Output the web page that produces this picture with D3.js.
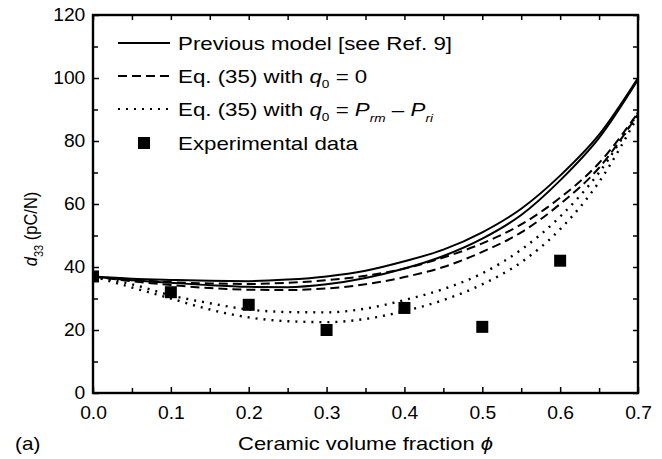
<!DOCTYPE html>
<html>
<head>
  <meta charset="utf-8">
  <script src="https://d3js.org/d3.v7.min.js"></script>
  <style>
    body { margin: 0; background: #fff; }
    #chart { font-family: "Liberation Sans", Arial, sans-serif; }
  </style>
</head>
<body>
<svg id="chart" width="662" height="459"></svg>
<script>
  // ceramic volume fraction sampled along the model curves
  const phi = [0, 0.05, 0.1, 0.15, 0.2, 0.25, 0.3, 0.35, 0.4, 0.45, 0.5, 0.55, 0.6, 0.65, 0.7];

  const previousUpper = [37, 36.3, 35.9, 35.6, 35.5, 36, 37, 38.8, 41.8, 45.5, 51, 58.5, 69, 82, 100];
  const previousLower = [37, 35.8, 35, 34.2, 33.7, 33.6, 34.5, 36.5, 39.5, 43.5, 49, 56.5, 67.5, 81, 99.5];
  const zeroUpper = [37, 36, 35.2, 34.8, 34.6, 35, 35.8, 37.2, 39.5, 43, 47.5, 53.5, 62, 73, 89];
  const zeroLower = [37, 35.5, 34.3, 33.3, 32.8, 32.7, 33.2, 34.5, 36.8, 40, 44.8, 51, 60, 71.5, 88.5];
  const polUpper = [37, 34.5, 31, 28.5, 26.5, 25.7, 25.6, 26.8, 29.5, 33, 38, 45.5, 56, 70, 89];
  const polLower = [37, 33.5, 30, 26.5, 24, 22.8, 22.5, 23.5, 26, 29.5, 34.5, 41.5, 52, 67, 88];

  const expPhi = [0, 0.1, 0.2, 0.3, 0.4, 0.5, 0.6];
  const expD33 = [37, 32, 28, 20, 27, 21, 42];

  const xTicks = [0, 0.1, 0.2, 0.3, 0.4, 0.5, 0.6, 0.7];
  const xMinor = [0.05, 0.15, 0.25, 0.35, 0.45, 0.55, 0.65];
  const yTicks = [0, 20, 40, 60, 80, 100, 120];
  const yMinor = [10, 30, 50, 70, 90, 110];

  const svg = d3.select('#chart');
  const margin = { top: 15, right: 24, bottom: 66, left: 93 };
  const width = 662 - margin.left - margin.right;
  const height = 459 - margin.top - margin.bottom;

  const x = d3.scaleLinear().domain([0, 0.7]).range([0, width]);
  const y = d3.scaleLinear().domain([0, 120]).range([height, 0]);

  const g = svg.append('g')
    .attr('transform', `translate(${margin.left},${margin.top})`);

  g.append('clipPath').attr('id', 'plotClip')
    .append('rect').attr('width', width).attr('height', height);

  // curves
  const line = d3.line()
    .x(d => x(d[0]))
    .y(d => y(d[1]))
    .curve(d3.curveMonotoneX);

  const DASH = '9,5', DOT = '2,6';
  const series = [
    { values: previousUpper, dash: null },
    { values: previousLower, dash: null },
    { values: zeroUpper, dash: DASH },
    { values: zeroLower, dash: DASH },
    { values: polUpper, dash: DOT },
    { values: polLower, dash: DOT }
  ];

  const curves = g.append('g').attr('clip-path', 'url(#plotClip)');
  series.forEach(s => {
    curves.append('path')
      .datum(phi.map((p, i) => [p, s.values[i]]))
      .attr('fill', 'none')
      .attr('stroke', '#000')
      .attr('stroke-width', s.dash === DOT ? 2.4 : 2)
      .attr('stroke-dasharray', s.dash)
      .attr('d', line);
  });

  // experimental points
  const ms = 12;
  curves.selectAll('rect.exp')
    .data(expPhi.map((p, i) => [p, expD33[i]]))
    .join('rect')
    .attr('class', 'exp')
    .attr('x', d => x(d[0]) - ms / 2)
    .attr('y', d => y(d[1]) - ms / 2)
    .attr('width', ms)
    .attr('height', ms)
    .attr('fill', '#000');

  // axes, ticks pointing inward on all sides
  function styleAxis(sel) {
    sel.select('.domain').remove();
    sel.selectAll('.tick line').attr('stroke', '#000').attr('stroke-width', 1.5);
    sel.selectAll('.tick text')
      .attr('fill', '#000')
      .attr('transform', 'scale(1.1,1)')
      .style('font-size', '17.5px')
      .style('font-family', '"Liberation Sans", Arial, sans-serif');
  }

  g.append('g')
    .attr('transform', `translate(0,${height})`)
    .call(d3.axisBottom(x).tickValues(xTicks).tickSize(-6).tickPadding(14).tickFormat(d3.format('.1f')))
    .call(styleAxis);
  g.append('g')
    .attr('transform', `translate(0,${height})`)
    .call(d3.axisBottom(x).tickValues(xMinor).tickSize(-5).tickFormat(''))
    .call(styleAxis);
  g.append('g')
    .call(d3.axisTop(x).tickValues(xTicks.concat(xMinor)).tickSize(-5).tickFormat(''))
    .call(styleAxis);

  g.append('g')
    .call(d3.axisLeft(y).tickValues(yTicks).tickSize(-6).tickPadding(7).tickFormat(d3.format('d')))
    .call(styleAxis);
  g.append('g')
    .call(d3.axisLeft(y).tickValues(yMinor).tickSize(-5).tickFormat(''))
    .call(styleAxis);
  g.append('g')
    .attr('transform', `translate(${width},0)`)
    .call(d3.axisRight(y).tickValues(yTicks.concat(yMinor)).tickSize(-5).tickFormat(''))
    .call(styleAxis);

  g.append('rect')
    .attr('width', width)
    .attr('height', height)
    .attr('fill', 'none')
    .attr('stroke', '#000')
    .attr('stroke-width', 2.4);

  // legend
  const legend = svg.append('g').style('font-size', '18px');
  const rows = [43, 76, 109, 143];
  const lx0 = 118, lx1 = 170, tx = 178;

  [null, DASH, DOT].forEach((dash, i) => {
    legend.append('line')
      .attr('x1', lx0).attr('x2', lx1)
      .attr('y1', rows[i]).attr('y2', rows[i])
      .attr('stroke', '#000')
      .attr('stroke-width', dash === DOT ? 2.2 : 2)
      .attr('stroke-dasharray', dash);
  });
  legend.append('rect')
    .attr('x', 144 - ms / 2).attr('y', rows[3] - ms / 2)
    .attr('width', ms).attr('height', ms)
    .attr('fill', '#000');

  function legendText(row) {
    return legend.append('text')
      .attr('transform', `translate(${tx},${rows[row] + 6.5}) scale(1.24,1)`);
  }

  legendText(0).text('Previous model [see Ref. 9]');

  const t1 = legendText(1);
  t1.append('tspan').text('Eq. (35) with ');
  t1.append('tspan').style('font-style', 'italic').text('q');
  t1.append('tspan').attr('dy', 5).style('font-size', '11px').text('0');
  t1.append('tspan').attr('dy', -5).text(' = 0');

  const t2 = legendText(2);
  t2.append('tspan').text('Eq. (35) with ');
  t2.append('tspan').style('font-style', 'italic').text('q');
  t2.append('tspan').attr('dy', 5).style('font-size', '11px').text('0');
  t2.append('tspan').attr('dy', -5).text(' = ');
  t2.append('tspan').style('font-style', 'italic').text('P');
  t2.append('tspan').attr('dy', 6).style('font-size', '11px').style('font-style', 'italic').text('rm');
  t2.append('tspan').attr('dy', -6).text(' \u2013 ');
  t2.append('tspan').style('font-style', 'italic').text('P');
  t2.append('tspan').attr('dy', 6).style('font-size', '11px').style('font-style', 'italic').text('ri');

  legendText(3).text('Experimental data');

  // axis titles
  const xt = svg.append('text')
    .attr('transform', `translate(${margin.left + width / 2},450) scale(1.22,1)`)
    .attr('text-anchor', 'middle')
    .style('font-size', '18px');
  xt.append('tspan').text('Ceramic volume fraction ');
  xt.append('tspan').style('font-style', 'italic').text('\u03D5');

  const yt = svg.append('text')
    .attr('transform', 'translate(37,229) rotate(-90) scale(1,1.15)')
    .attr('text-anchor', 'middle')
    .style('font-size', '16.5px');
  yt.append('tspan').style('font-style', 'italic').text('d');
  yt.append('tspan').attr('dy', 5).style('font-size', '11px').text('33');
  yt.append('tspan').attr('dy', -5).text(' (pC/N)');

  svg.append('text')
    .attr('transform', 'translate(15,450) scale(1.15,1)')
    .style('font-size', '18px')
    .text('(a)');
</script>
</body>
</html>
